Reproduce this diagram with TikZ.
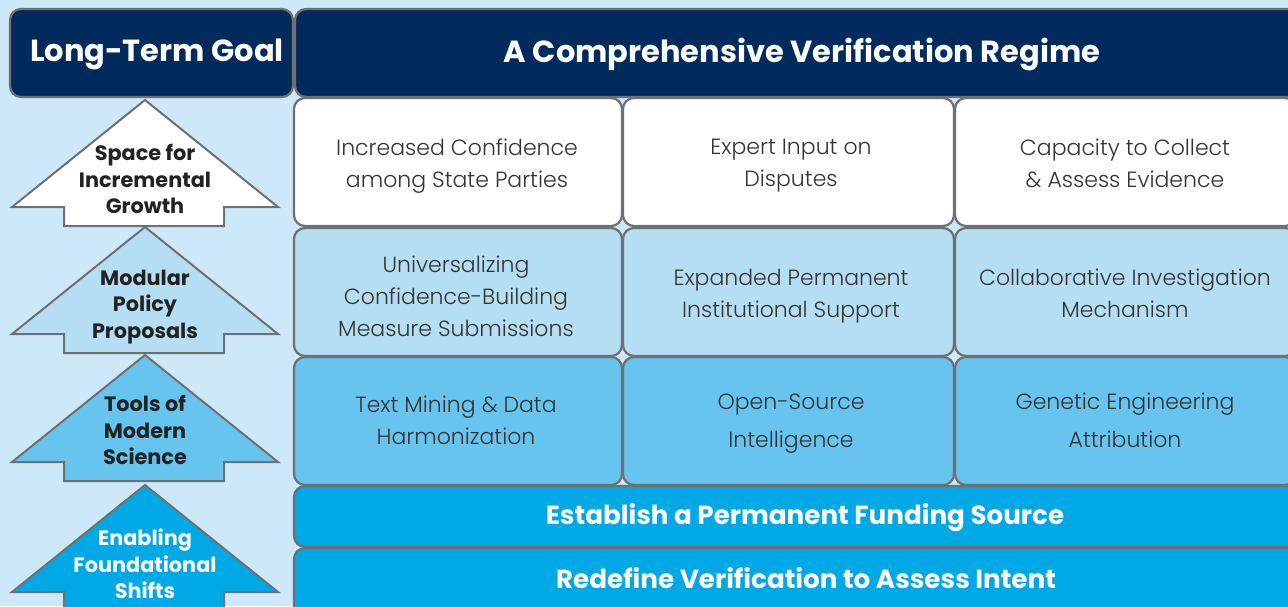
\documentclass[tikz,border=0pt]{standalone}
\usepackage{fontspec}
\setmainfont{Poppins}
\newfontfamily\lightfont{Poppins Light}

\definecolor{pagebg}{HTML}{CDE8F8}
\definecolor{navy}{HTML}{002B5C}
\definecolor{edgegray}{HTML}{707072}
\definecolor{rowtwo}{HTML}{B5DEF3}
\definecolor{rowthree}{HTML}{67C4EE}
\definecolor{rowfour}{HTML}{00A9E6}
\definecolor{celltext}{HTML}{333333}
\definecolor{labeltext}{HTML}{222222}

\begin{document}
\begin{tikzpicture}[x=1pt,y=-1pt,
    box/.style={draw=edgegray,line width=2.2pt,rounded corners=11pt},
    arrowedge/.style={draw=edgegray,line width=2pt,line join=miter},
    headtext/.style={text=white,font=\bfseries\fontsize{30.5}{34}\selectfont},
    bandtext/.style={text=white,font=\bfseries\fontsize{26.2}{32}\selectfont},
    celltext/.style={text=celltext,align=center,font=\lightfont\fontsize{22}{32}\selectfont},
    steplabel/.style={text=labeltext,align=center,font=\bfseries\fontsize{20.8}{26.5}\selectfont}]
    \useasboundingbox[fill=pagebg] (0,0) rectangle (1288,606);
    \clip (0,0) rectangle (1288,606);

    \draw[box,fill=navy] (10,9) rectangle (293,97);
    \draw[box,fill=navy] (295,9) rectangle (1320,97);
    \node[headtext] (goal) at (157,54) {Long-Term Goal};
    \node[headtext] (regime) at (802,54) {A Comprehensive Verification Regime};

    \foreach \top/\shade in {98/white,228/rowtwo,357/rowthree} {
        \foreach \left/\right in {294/622,623/954,955/1296} {
            \draw[box,fill=\shade] (\left,\top) rectangle (\right,\top+128);
        }
    }
    \draw[box,fill=rowfour] (294,486) rectangle (1320,547);
    \draw[box,fill=rowfour] (294,548) rectangle (1320,640);

    \node[celltext] (confidence) at (457,166) {Increased Confidence\\among State Parties};
    \node[celltext] (expert) at (791,166) {Expert Input on\\Disputes};
    \node[celltext] (evidence) at (1125,163) {Capacity to Collect\\\& Assess Evidence};
    \node[celltext] (cbm) at (456,296) {Universalizing\\Confidence-Building\\Measure Submissions};
    \node[celltext] (support) at (791,296) {Expanded Permanent\\Institutional Support};
    \node[celltext] (mechanism) at (1125,293) {Collaborative Investigation\\Mechanism};
    \node[celltext] (mining) at (456,420) {Text Mining \& Data\\Harmonization};
    \node[celltext] (osint) at (791,424) {Open-Source\\[6pt]Intelligence};
    \node[celltext] (attribution) at (1125,420) {Genetic Engineering\\[6pt]Attribution};

    \node[bandtext] (funding) at (805,518) {Establish a Permanent Funding Source};
    \node[bandtext] (intent) at (806,578) {Redefine Verification to Assess Intent};

    \foreach \tip/\shade in {100/white,227/rowtwo,355/rowthree,485/rowfour} {
        \draw[arrowedge,fill=\shade] (145,\tip) -- (278,\tip+107) -- (224,\tip+107)
            -- (224,\tip+126) -- (64,\tip+126) -- (64,\tip+107) -- (12,\tip+107) -- cycle;
    }
    \node[steplabel] (growth) at (145,179) {Space for\\Incremental\\Growth};
    \node[steplabel] (modular) at (145,307) {Modular\\Policy\\Proposals};
    \node[steplabel] (tools) at (145,430) {Tools of\\Modern\\Science};
    \node[steplabel,text=white] (shifts) at (145,564) {Enabling\\Foundational\\Shifts};
\end{tikzpicture}
\end{document}
